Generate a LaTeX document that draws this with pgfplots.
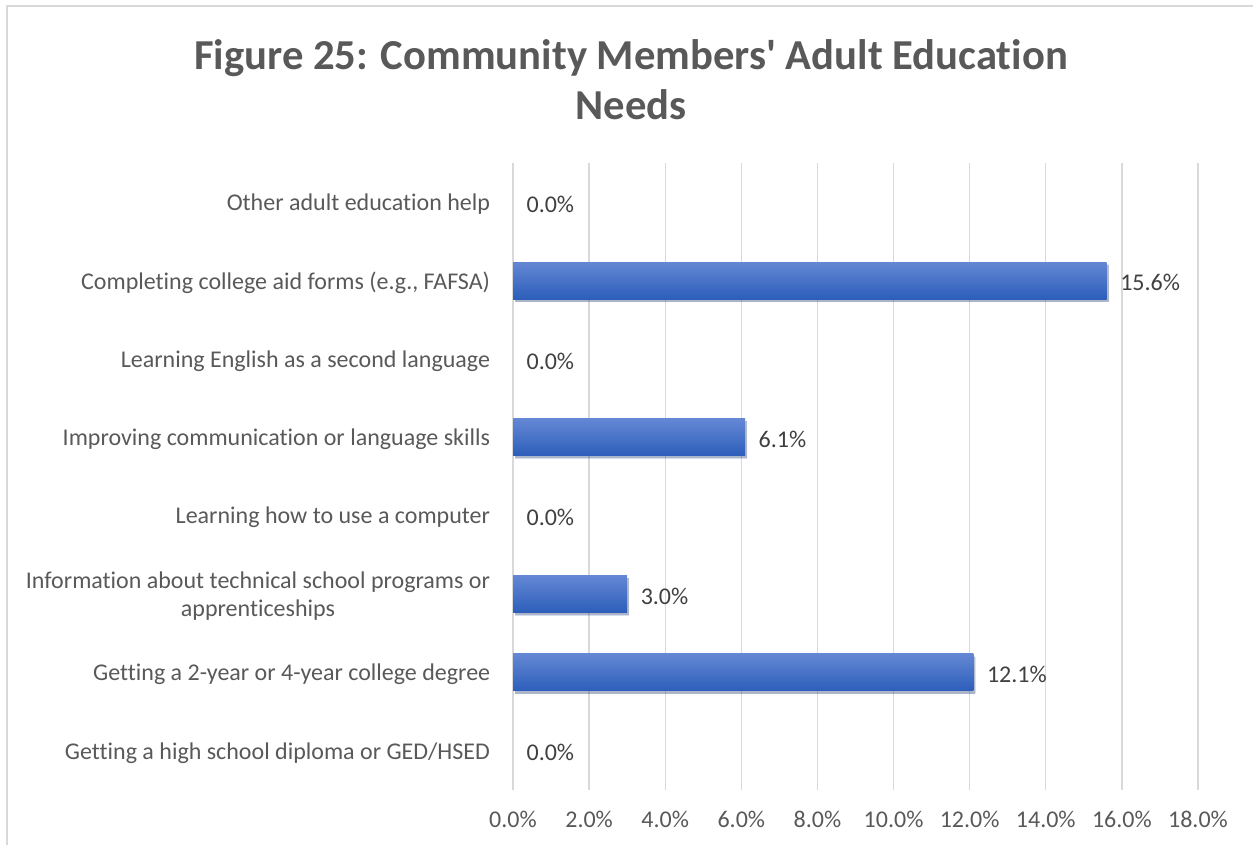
\documentclass[border=0pt]{standalone}
\usepackage{pgfplots}
\pgfplotsset{compat=1.18}
\usepackage{fontspec}
\setmainfont{Carlito}[Ligatures={NoCommon,TeXOff}]
\usetikzlibrary{shadows}
\definecolor{gridc}{HTML}{D9D9D9}
\definecolor{labc}{HTML}{595959}
\definecolor{datac}{HTML}{404040}
\definecolor{bartop}{RGB}{100,135,212}
\definecolor{barbot}{RGB}{44,94,186}
\begin{document}
\begin{tikzpicture}
\useasboundingbox (0,0) rectangle (939.75pt,633.75pt);
\draw[gridc, line width=1pt] (5.25pt,-10pt) -- (5.25pt,629.25pt) -- (950pt,629.25pt);
\node[align=center, text=labc, font=\fontsize{32}{37.5}\selectfont\bfseries] at (473.25pt,573.75pt)
  {Figure 25: Community Members' Adult Education\\Needs};
\begin{axis}[
  at={(384.75pt,41.25pt)}, anchor=south west,
  scale only axis, width=513.75pt, height=470.25pt,
  xmin=0, xmax=18, ymin=-0.5, ymax=7.5,
  xtick={0,2,...,18}, ytick={0,...,7},
  axis line style={draw=none},
  major tick length=0pt,
  xmajorgrids, major x grid style={gridc, line width=1pt},
  /pgf/number format/assume math mode=true,
  xticklabel={\pgfmathprintnumber[fixed,fixed zerofill,precision=1]{\tick}\%},
  xticklabel style={text=labc, font=\fontsize{18}{21}\selectfont, yshift=-12pt},
  yticklabels={Getting a high school diploma or GED/HSED,
    Getting a 2-year or 4-year college degree,
    {Information about technical school programs or\\apprenticeships},
    Learning how to use a computer,
    Improving communication or language skills,
    Learning English as a second language,
    {Completing college aid forms (e.g., FAFSA)},
    Other adult education help},
  yticklabel style={text=labc, font=\fontsize{18}{21}\selectfont, align=center, inner sep=0pt, xshift=-17pt, yshift=-1.5pt},
  xbar, bar width=27.75pt,
  every axis plot/.append style={bar shift=0pt},
  nodes near coords={\pgfmathprintnumber[fixed,fixed zerofill,precision=1]{\pgfplotspointmeta}\%},
  nodes near coords style={text=datac, font=\fontsize{18}{21}\selectfont, anchor=west, inner sep=0pt, xshift=10pt, yshift=-1.5pt},
  point meta=explicit,
  barsty/.style={draw=none, top color=bartop, bottom color=barbot,
    drop shadow={shadow xshift=1.5pt, shadow yshift=-2pt, fill=black, opacity=0.2}},
]
\addplot[barsty] coordinates {(12.1,1) [12.1]};
\addplot[barsty] coordinates {(3.0,2) [3.0]};
\addplot[barsty] coordinates {(6.1,4) [6.1]};
\addplot[barsty] coordinates {(15.6,6) [15.6]};
\addplot[draw=none, fill=none] coordinates {
  (0,0) [0]
  (0,3) [0]
  (0,5) [0]
  (0,7) [0]
};
\end{axis}
\end{tikzpicture}
\end{document}
